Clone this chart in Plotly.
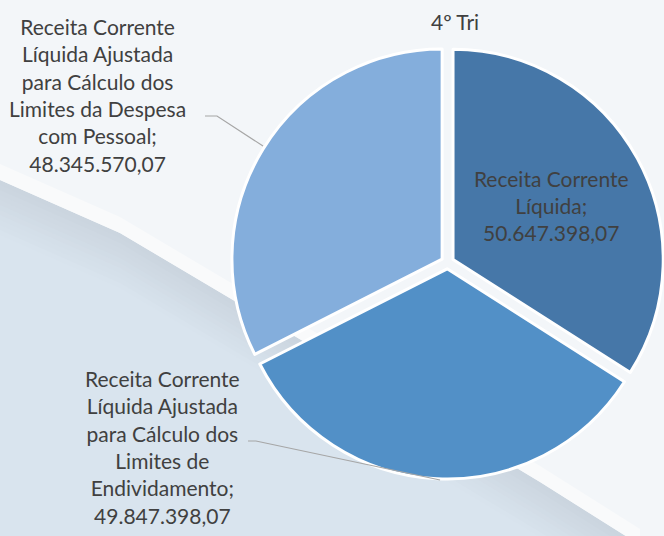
"""Receita Corrente Líquida - 4º Tri pie"""
import plotly.graph_objects as go

# data
labels = [
    "Receita Corrente Líquida",
    "Receita Corrente Líquida Ajustada para Cálculo dos Limites de Endividamento",
    "Receita Corrente Líquida Ajustada para Cálculo dos Limites da Despesa com Pessoal",
]
wrapped = [
    "Receita Corrente<br>Líquida",
    "Receita Corrente<br>Líquida Ajustada<br>para Cálculo dos<br>Limites de<br>Endividamento",
    "Receita Corrente<br>Líquida Ajustada<br>para Cálculo dos<br>Limites da Despesa<br>com Pessoal",
]
values = [50647398.07, 49847398.07, 48345570.07]
colors = ["#4677A8", "#5290C7", "#84AEDC"]
title = "4º Tri"

W, H = 664, 536
FONT = "Lato"
FS = 21
TXT = "#404040"


def px(x, y):
    # pixel -> paper coords
    return x / W, 1 - y / H


def poly(pts, close=True):
    s = "M " + " L ".join(f"{px(x, y)[0]:.4f},{px(x, y)[1]:.4f}" for x, y in pts)
    return s + (" Z" if close else "")


def brl(v):
    s = f"{v:,.2f}"
    return s.replace(",", "X").replace(".", ",").replace("X", ".")


fig = go.Figure()

fig.add_trace(go.Pie(
    labels=labels,
    values=values,
    text=[f"{w};<br>{brl(v)}" for w, v in zip(wrapped, values)],
    texttemplate=["%{text}", "", ""],
    textposition=["inside", "none", "none"],
    insidetextorientation="horizontal",
    textfont=dict(family=FONT, size=FS, color=TXT),
    marker=dict(colors=colors, line=dict(color="white", width=3)),
    pull=[0.03, 0.03, 0.03],
    sort=False,
    direction="clockwise",
    rotation=0,
    showlegend=False,
    hoverinfo="label+value",
    domain=dict(x=[231 / W, 1], y=[1 - 479 / H, 1 - 46 / H]),
))

# background: light top area, grey-blue region in the lower left (soft stepped gradient)
shapes = []
edge = [(0, 180), (120, 233), (233, 300), (400, 398), (540, 482), (640, 545)]
n = 12
c0, c1 = (0xCB, 0xD5, 0xDF), (0xD9, 0xE4, 0xEE)
for i in range(n):
    t = i / (n - 1)
    c = "#%02X%02X%02X" % tuple(round(a + (b - a) * t) for a, b in zip(c0, c1))
    d = i * 5
    pts = [(x, y + d) for x, y in edge] + [(700, 640), (0, 640)]
    shapes.append(dict(type="path", xref="paper", yref="paper", path=poly(pts),
                       fillcolor=c, line=dict(width=0), layer="below"))
# light strip just above the edge
strip = [(x, y - 16) for x, y in edge] + [(x, y) for x, y in reversed(edge)]
shapes.append(dict(type="path", xref="paper", yref="paper", path=poly(strip),
                   fillcolor="#F9FAFB", line=dict(width=0), layer="below"))

# leader lines
for pts in ([(205, 116), (217, 116), (263, 146)], [(248, 441), (256, 441), (440, 480)]):
    shapes.append(dict(type="path", xref="paper", yref="paper", path=poly(pts, False),
                       line=dict(color="#A6A6A6", width=1.2)))

annotations = [
    dict(text=f"{wrapped[2]};<br>{brl(values[2])}", x=px(97, 95)[0], y=px(97, 95)[1]),
    dict(text=f"{wrapped[1]};<br>{brl(values[1])}", x=px(162, 447)[0], y=px(162, 447)[1]),
    dict(text=title, x=px(455, 22)[0], y=px(455, 22)[1]),
]
for a in annotations:
    a.update(xref="paper", yref="paper", showarrow=False, align="center",
             xanchor="center", yanchor="middle",
             font=dict(family=FONT, size=FS, color=TXT))

fig.update_layout(
    width=W,
    height=H,
    margin=dict(l=0, r=0, t=0, b=0),
    paper_bgcolor="#F3F6F9",
    plot_bgcolor="#F3F6F9",
    shapes=shapes,
    annotations=annotations,
)

fig.write_html("out.html", config={"displayModeBar": False},
               post_script="document.body.style.margin='0';")
